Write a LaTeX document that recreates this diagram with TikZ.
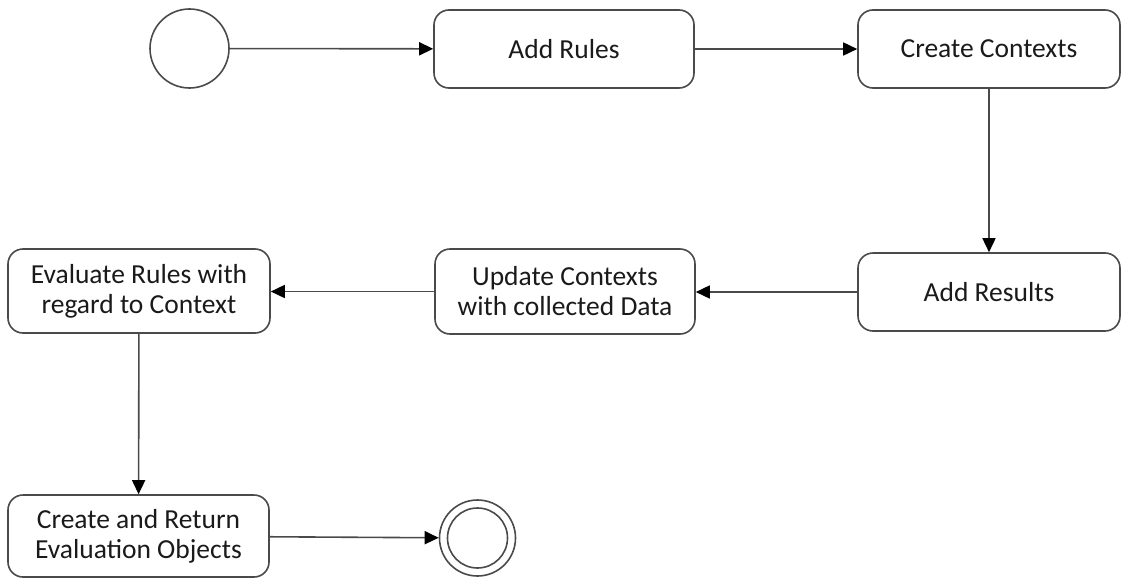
\documentclass[tikz,border=0pt]{standalone}
\usepackage{fontspec}
\setmainfont{Carlito}
\usetikzlibrary{arrows.meta,positioning}
\definecolor{edge}{HTML}{4A4A4A}
\definecolor{ink}{HTML}{1A1A1A}
\tikzset{
  activity/.style={draw=edge, line width=1.6pt, rounded corners=15pt, fill=white,
    align=center, inner sep=0pt, font=\fontsize{27.5}{30}\selectfont, text=ink},
  initial/.style={draw=edge, line width=1.6pt, circle, fill=white, inner sep=0pt},
  flow/.style={draw=edge, line width=1.6pt, -{Triangle[length=14pt,width=13pt,color=black]}}
}
\begin{document}
\begin{tikzpicture}[x=1pt,y=-1pt]
\useasboundingbox (0,0) rectangle (1121,578);
% start and end states
\node[initial, minimum size=79pt] (start) at (189.5,48.5) {};
\node[initial, minimum size=76pt] (final) at (477.5,538) {};
\node[draw=edge, line width=1.6pt, circle, minimum size=60pt, inner sep=0pt] (finalin) at (final) {};
% activities
\node[activity, minimum width=260pt, minimum height=78pt] (addrules) at (564,49) {Add Rules};
\node[activity, minimum width=262pt, minimum height=78pt] (contexts) at (989,49) {Create Contexts};
\node[activity, minimum width=262pt, minimum height=78pt] (results) at (989,292) {Add Results};
\node[activity, minimum width=260pt, minimum height=85pt] (update) at (565,291.5) {Update Contexts\\with collected Data};
\node[activity, minimum width=262pt, minimum height=84pt] (evaluate) at (139,291) {Evaluate Rules with\\regard to Context};
\node[activity, minimum width=261pt, minimum height=82pt] (ret) at (138.5,536) {Create and Return\\Evaluation Objects};
% control flow
\draw[flow] (start) -- (addrules);
\draw[flow] (addrules) -- (contexts);
\draw[flow] (contexts) -- (results);
\draw[flow] (results.west) -- (update.east |- results.west);
\draw[flow] (update.west) -- (evaluate.east |- update.west);
\draw[flow] (evaluate) -- (ret);
\draw[flow] (ret) -- (final);
\end{tikzpicture}
\end{document}
